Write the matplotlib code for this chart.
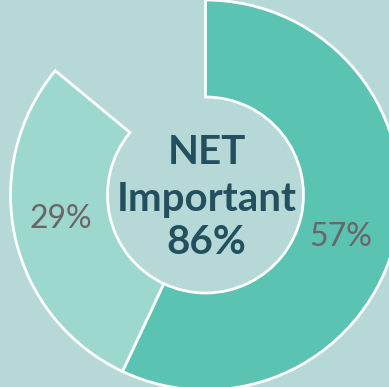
import matplotlib
matplotlib.use("Agg")
import matplotlib.pyplot as plt

# data
labels = ["57%", "29%", ""]
values = [57, 29, 14]
colors = ["#5bc3b1", "#9dd8cf", "none"]
center_lines = ["NET", "Important", "86%"]

bg = "#b6d8d7"

fig = plt.figure(figsize=(3.89, 3.87), dpi=100, facecolor=bg)
ax = fig.add_axes([0, 0, 1, 1])
ax.set_facecolor(bg)

cx, cy = 205.5, 192
r_out = 195
r_in = 98

wedges, _ = ax.pie(values, colors=colors, startangle=90, counterclock=False,
                   center=(cx, cy), radius=r_out, frame=True,
                   wedgeprops=dict(width=r_out - r_in, edgecolor="white", linewidth=2))
wedges[2].set_edgecolor("none")
ax.set_xlim(0, 389)
ax.set_ylim(0, 387)
ax.set_aspect("equal")
ax.axis("off")

# slice labels
ax.text(341, 387 - 237, labels[0], ha="center", va="center", fontsize=23,
        color="#6a6567", family="Lato", fontweight="normal")
ax.text(61, 387 - 219, labels[1], ha="center", va="center", fontsize=23,
        color="#6a6567", family="Lato", fontweight="normal")

# center text
ys = [153, 199, 242]
for t, y in zip(center_lines, ys):
    ax.text(cx + 1, 387 - y, t, ha="center", va="center", fontsize=29,
            color="#22505e", family="Lato", fontweight="bold")

fig.savefig("out.png", dpi=100, facecolor=bg)
